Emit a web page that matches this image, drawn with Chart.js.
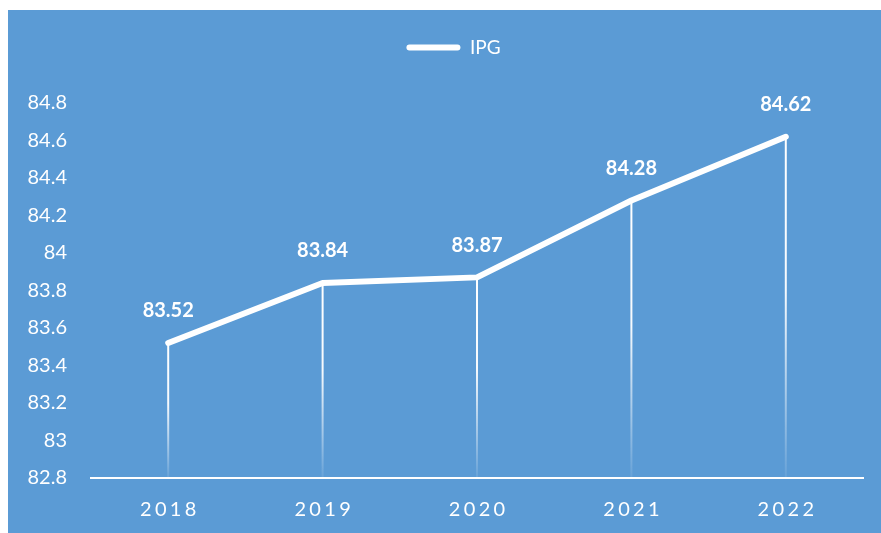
<!DOCTYPE html>
<html>
<head>
<meta charset="utf-8">
<script src="https://cdn.jsdelivr.net/npm/chart.js@4"></script>
<style>
  body { margin: 0; background: #fff; width: 881px; height: 533px; overflow: hidden; }
  #wrap { position: absolute; left: 8px; top: 10px; width: 873px; height: 523px; background: #5b9bd5; }
</style>
</head>
<body>
<div id="wrap"><canvas id="ipgChart" width="873" height="523"></canvas></div>
<script>
// data
let years = ["2018", "2019", "2020", "2021", "2022"];
let ipgValues = [83.52, 83.84, 83.87, 84.28, 84.62];
let seriesName = "IPG";
let yMin = 82.8, yMax = 84.8, yStep = 0.2;

Chart.defaults.font.family = "Lato, 'Open Sans', sans-serif";
Chart.defaults.color = "#ffffff";

// **Drop lines from each point down to the axis, fading out**
const dropLines = {
  id: "dropLines",
  beforeDatasetsDraw(chart) {
    let ctx = chart.ctx;
    let bottom = chart.chartArea.bottom;
    chart.getDatasetMeta(0).data.forEach(pt => {
      let grad = ctx.createLinearGradient(0, pt.y, 0, bottom);
      grad.addColorStop(0, "rgba(255,255,255,1)");
      grad.addColorStop(0.45, "rgba(255,255,255,0.95)");
      grad.addColorStop(1, "rgba(255,255,255,0.08)");
      ctx.save();
      ctx.strokeStyle = grad;
      ctx.lineWidth = 2;
      ctx.beginPath();
      ctx.moveTo(pt.x, pt.y);
      ctx.lineTo(pt.x, bottom);
      ctx.stroke();
      ctx.restore();
    });
  }
};

// **Value labels above the points**
const valueLabels = {
  id: "valueLabels",
  afterDatasetsDraw(chart) {
    let ctx = chart.ctx;
    ctx.save();
    ctx.font = "bold 20px Lato, 'Open Sans', sans-serif";
    ctx.fillStyle = "#ffffff";
    ctx.textAlign = "center";
    ctx.textBaseline = "middle";
    chart.getDatasetMeta(0).data.forEach((pt, i) => {
      ctx.fillText(ipgValues[i].toFixed(2), pt.x, pt.y - 32);
    });
    ctx.restore();
  }
};

// **Fix legend height / position so the plot starts where the original does**
const legendPlace = {
  id: "legendPlace",
  beforeInit(chart) {
    let origFit = chart.legend.fit;
    chart.legend.fit = function () {
      origFit.bind(chart.legend)();
      this.height = 93;
    };
  },
  afterLayout(chart) {
    chart.legend.left += 36;
  }
};

new Chart(document.getElementById("ipgChart").getContext("2d"), {
  type: "line",
  data: {
    labels: years,
    datasets: [{
      label: seriesName,
      data: ipgValues,
      borderColor: "#ffffff",
      backgroundColor: "#ffffff",
      borderWidth: 6,
      borderCapStyle: "round",
      borderJoinStyle: "round",
      pointRadius: 0,
      tension: 0,
      clip: false
    }]
  },
  options: {
    responsive: false,
    animation: false,
    layout: { padding: { top: 0, right: 18, bottom: 0, left: 0 } },
    plugins: {
      tooltip: { enabled: false },
      legend: {
        position: "top",
        labels: {
          color: "#ffffff",
          font: { size: 19 },
          boxWidth: 54,
          boxHeight: 6,
          padding: 28,
          useBorderRadius: true,
          borderRadius: 3,
          generateLabels(chart) {
            return Chart.defaults.plugins.legend.labels.generateLabels(chart).map(l => {
              l.lineWidth = 0;
              l.fillStyle = "#ffffff";
              l.strokeStyle = "#ffffff";
              return l;
            });
          }
        }
      }
    },
    scales: {
      x: {
        offset: true,
        grid: { display: false, drawTicks: false },
        border: { display: true, color: "#ffffff", width: 2 },
        ticks: {
          color: "#ffffff",
          font: { size: 20 },
          padding: 20,
          callback(value) { return years[value].split("").join("\u2006"); }
        },
        afterFit(scale) { scale.height = 55; }
      },
      y: {
        min: yMin,
        max: yMax,
        grid: { display: false, drawTicks: false },
        border: { display: false },
        ticks: {
          stepSize: yStep,
          color: "#ffffff",
          font: { size: 20 },
          padding: 24,
          callback(value) { return String(Number(value.toFixed(1))); }
        },
        afterFit(scale) { scale.width = 83; }
      }
    }
  },
  plugins: [legendPlace, dropLines, valueLabels]
});
</script>
</body>
</html>
